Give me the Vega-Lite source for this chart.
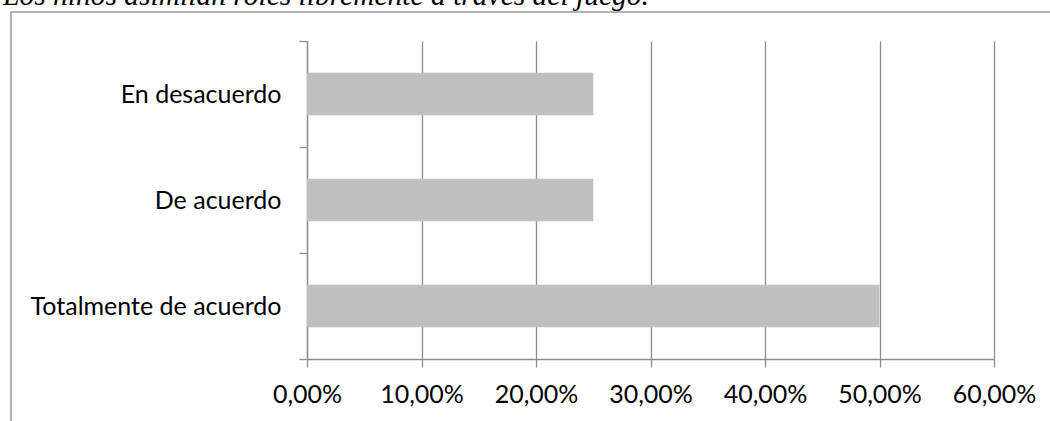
{
  "$schema": "https://vega.github.io/schema/vega-lite/v6.json",
  "width": 687,
  "height": 318,
  "autosize": {"type": "none"},
  "padding": {"left": 307, "top": 41, "right": 56, "bottom": 62},
  "background": "white",
  "title": {
    "text": "Los niños asimilan roles libremente a través del juego.",
    "font": "Liberation Serif",
    "fontStyle": "italic",
    "fontWeight": "normal",
    "fontSize": 29.5,
    "color": "black",
    "anchor": "start",
    "frame": "group",
    "baseline": "alphabetic",
    "offset": 0,
    "dx": -304,
    "dy": 23
  },
  "config": {
    "view": {"stroke": null},
    "axis": {
      "labelFont": "Lato",
      "labelFontSize": 25,
      "labelColor": "black",
      "labelLimit": 500,
      "domainColor": "#8c8c8c",
      "tickColor": "#8c8c8c",
      "gridColor": "#8c8c8c",
      "domainWidth": 1.3,
      "tickWidth": 1.3,
      "gridWidth": 1.3
    }
  },
  "layer": [
    {
      "data": {"values": [{"marco": "borde"}]},
      "mark": {"type": "rect", "fill": "transparent", "stroke": "#999999", "strokeWidth": 1.5},
      "encoding": {
        "x": {"datum": -0.2585, "type": "quantitative", "scale": {"domain": [0, 0.6], "nice": false, "zero": false}},
        "x2": {"datum": 0.75},
        "y": {"datum": 1.0912, "type": "quantitative", "scale": {"domain": [0, 1], "nice": false, "zero": false}, "axis": null},
        "y2": {"datum": -0.4}
      }
    },
    {
      "data": {
        "values": [
          {"respuesta": "En desacuerdo", "porcentaje": 0.25},
          {"respuesta": "De acuerdo", "porcentaje": 0.25},
          {"respuesta": "Totalmente de acuerdo", "porcentaje": 0.5}
        ]
      },
      "mark": {"type": "bar", "color": "#BFBFBF", "height": {"band": 0.4}},
      "encoding": {
        "y": {
          "field": "respuesta",
          "type": "nominal",
          "sort": ["En desacuerdo", "De acuerdo", "Totalmente de acuerdo"],
          "scale": {"paddingInner": 0, "paddingOuter": 0},
          "axis": {
            "title": null,
            "tickBand": "extent",
            "tickSize": 8,
            "labelPadding": 18,
            "grid": false
          }
        },
        "x": {
          "field": "porcentaje",
          "type": "quantitative",
          "scale": {"domain": [0, 0.6], "nice": false, "zero": false},
          "axis": {
            "title": null,
            "values": [0, 0.1, 0.2, 0.3, 0.4, 0.5, 0.6],
            "labelExpr": "replace(format(datum.value, '.2%'), '.', ',')",
            "grid": true,
            "tickSize": 8,
            "labelPadding": 15,
            "labelFlush": false
          }
        }
      }
    }
  ],
  "resolve": {"scale": {"y": "independent"}}
}
